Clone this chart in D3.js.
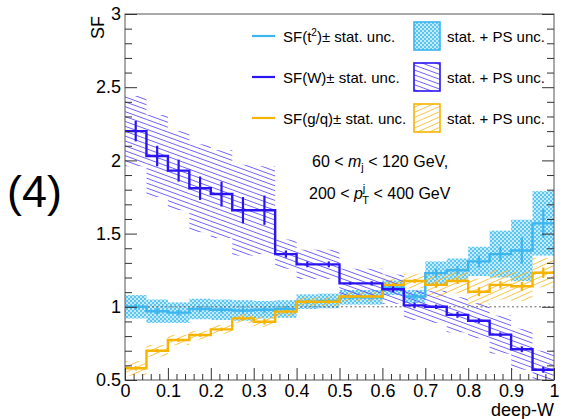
<!DOCTYPE html>
<html>
<head>
<meta charset="utf-8">
<script src="https://cdn.jsdelivr.net/npm/d3@7"></script>
<style>
  html, body { margin: 0; padding: 0; background: #fff; }
  svg { display: block; font-family: "Liberation Sans", Arial, Helvetica, sans-serif; }
</style>
</head>
<body>
<svg id="chart" width="577" height="419"></svg>
<script>
// deep-W bins
const binEdges = [0, 0.05, 0.1, 0.15, 0.2, 0.25, 0.3, 0.35, 0.4, 0.45, 0.5,
                  0.55, 0.6, 0.65, 0.7, 0.75, 0.8, 0.85, 0.9, 0.95, 1];

// SF(t^2): value, stat. unc., stat. + PS unc.
const tVal  = [1.00, 0.97, 0.96, 0.985, 0.98, 0.975, 0.98, 0.985, 1.035, 1.04, 1.065, 1.065, 1.13, 1.07, 1.23, 1.25, 1.31, 1.36, 1.385, 1.57];
const tStat = [0.02, 0.02, 0.02, 0.02, 0.02, 0.02, 0.02, 0.02, 0.015, 0.015, 0.015, 0.015, 0.02, 0.02, 0.03, 0.03, 0.04, 0.05, 0.09, 0.1];
const tTot  = [0.08, 0.08, 0.07, 0.07, 0.07, 0.07, 0.06, 0.06, 0.05, 0.05, 0.05, 0.05, 0.05, 0.045, 0.08, 0.08, 0.1, 0.16, 0.21, 0.22];

// SF(W)
const wVal  = [2.20, 2.03, 1.93, 1.81, 1.77, 1.66, 1.66, 1.36, 1.29, 1.29, 1.16, 1.16, 1.12, 1.01, 1.00, 0.945, 0.905, 0.81, 0.71, 0.57];
const wStat = [0.07, 0.07, 0.075, 0.08, 0.085, 0.09, 0.1, 0.025, 0.02, 0.02, 0.01, 0.015, 0.02, 0.02, 0.015, 0.02, 0.015, 0.015, 0.02, 0.02];
const wTot  = [0.24, 0.28, 0.27, 0.3, 0.3, 0.31, 0.3, 0.1, 0.1, 0.1, 0.1, 0.1, 0.1, 0.1, 0.11, 0.12, 0.12, 0.13, 0.14, 0.13];

// SF(g/q)
const oVal  = [0.58, 0.70, 0.773, 0.807, 0.846, 0.921, 0.898, 0.967, 1.035, 1.035, 1.07, 1.07, 1.15, 1.176, 1.15, 1.176, 1.103, 1.15, 1.14, 1.233];
const oStat = [0.015, 0.012, 0.012, 0.012, 0.012, 0.015, 0.02, 0.012, 0.012, 0.012, 0.01, 0.01, 0.015, 0.015, 0.02, 0.02, 0.03, 0.025, 0.03, 0.035];
const oTot  = [0.05, 0.04, 0.035, 0.03, 0.03, 0.03, 0.035, 0.03, 0.03, 0.03, 0.03, 0.03, 0.045, 0.05, 0.085, 0.085, 0.09, 0.1, 0.1, 0.1];

// axis ticks
const xMajor = [0, 0.1, 0.2, 0.3, 0.4, 0.5, 0.6, 0.7, 0.8, 0.9, 1];
const xMinor = [0.02, 0.04, 0.06, 0.08, 0.12, 0.14, 0.16, 0.18, 0.22, 0.24, 0.26, 0.28,
                0.32, 0.34, 0.36, 0.38, 0.42, 0.44, 0.46, 0.48, 0.52, 0.54, 0.56, 0.58,
                0.62, 0.64, 0.66, 0.68, 0.72, 0.74, 0.76, 0.78, 0.82, 0.84, 0.86, 0.88,
                0.92, 0.94, 0.96, 0.98];
const yMajor = [0.5, 1, 1.5, 2, 2.5, 3];
const yMinor = [0.6, 0.7, 0.8, 0.9, 1.1, 1.2, 1.3, 1.4, 1.6, 1.7, 1.8, 1.9,
                2.1, 2.2, 2.3, 2.4, 2.6, 2.7, 2.8, 2.9];

const colT = "#3db6ef", colW = "#2a14f2", colO = "#f6b400";

const svg = d3.select("#chart");
const W = { left: 125, right: 554, top: 14, bottom: 380 };
const x = d3.scaleLinear().domain([0, 1]).range([W.left, W.right]);
const y = d3.scaleLinear().domain([0.5, 3]).range([W.bottom, W.top]);

// fill patterns
const defs = svg.append("defs");
const pW = defs.append("pattern").attr("id", "hatchW").attr("patternUnits", "userSpaceOnUse")
  .attr("width", 10).attr("height", 4.6).attr("patternTransform", "rotate(20)");
pW.append("line").attr("x1", 0).attr("x2", 10).attr("y1", 2.3).attr("y2", 2.3)
  .attr("stroke", "#5a4cff").attr("stroke-width", 0.85);
const pO = defs.append("pattern").attr("id", "hatchO").attr("patternUnits", "userSpaceOnUse")
  .attr("width", 10).attr("height", 4.8).attr("patternTransform", "rotate(-24)");
pO.append("line").attr("x1", 0).attr("x2", 10).attr("y1", 2.4).attr("y2", 2.4)
  .attr("stroke", "#f7bd2e").attr("stroke-width", 0.85);
const pT = defs.append("pattern").attr("id", "hatchT").attr("patternUnits", "userSpaceOnUse")
  .attr("width", 4).attr("height", 4);
pT.append("rect").attr("width", 4).attr("height", 4).attr("fill", "#5cc6f3");
pT.append("circle").attr("cx", 1).attr("cy", 1).attr("r", 1).attr("fill", "#e6f6fd");
pT.append("circle").attr("cx", 3).attr("cy", 3).attr("r", 1).attr("fill", "#e6f6fd");

defs.append("clipPath").attr("id", "frameClip").append("rect")
  .attr("x", W.left).attr("y", W.top).attr("width", W.right - W.left).attr("height", W.bottom - W.top);

const plot = svg.append("g").attr("clip-path", "url(#frameClip)");
const bins = d3.range(tVal.length);

function band(vals, tots, fill) {
  plot.append("g").selectAll("rect").data(bins).join("rect")
    .attr("x", i => x(binEdges[i]))
    .attr("width", i => x(binEdges[i + 1]) - x(binEdges[i]))
    .attr("y", i => y(vals[i] + tots[i]))
    .attr("height", i => y(vals[i] - tots[i]) - y(vals[i] + tots[i]))
    .attr("fill", fill);
}
band(tVal, tTot, "url(#hatchT)");
band(oVal, oTot, "url(#hatchO)");
band(wVal, wTot, "url(#hatchW)");

// reference line at SF = 1
plot.append("line").attr("x1", x(0)).attr("x2", x(1)).attr("y1", y(1)).attr("y2", y(1))
  .attr("stroke", "#666").attr("stroke-width", 1).attr("stroke-dasharray", "2,2.5");

function steps(vals, stats, color) {
  const pts = bins.map(i => [binEdges[i], vals[i]]);
  pts.push([binEdges[binEdges.length - 1], vals[vals.length - 1]]);
  const line = d3.line().x(d => x(d[0])).y(d => y(d[1])).curve(d3.curveStepAfter);
  plot.append("path").attr("d", line(pts)).attr("fill", "none")
    .attr("stroke", color).attr("stroke-width", 2.4);
  plot.append("g").selectAll("line").data(bins).join("line")
    .attr("x1", i => x((binEdges[i] + binEdges[i + 1]) / 2))
    .attr("x2", i => x((binEdges[i] + binEdges[i + 1]) / 2))
    .attr("y1", i => y(vals[i] - stats[i]))
    .attr("y2", i => y(vals[i] + stats[i]))
    .attr("stroke", color).attr("stroke-width", 2.2);
}
steps(tVal, tStat, colT);
steps(oVal, oStat, colO);
steps(wVal, wStat, colW);

// frame and axes
const axisCol = "#333";
svg.append("rect").attr("x", W.left).attr("y", W.top)
  .attr("width", W.right - W.left).attr("height", W.bottom - W.top)
  .attr("fill", "none").attr("stroke", "#555").attr("stroke-width", 1);

function styleAxis(g) {
  g.select(".domain").remove();
  g.selectAll(".tick line").attr("stroke", axisCol).attr("stroke-width", 1);
  g.selectAll(".tick text").attr("fill", "#000").attr("font-size", 18)
    .attr("font-family", "'Liberation Sans', Arial, sans-serif");
}
svg.append("g").attr("transform", `translate(0,${W.bottom})`)
  .call(d3.axisBottom(x).tickValues(xMajor).tickSize(-12).tickPadding(4).tickFormat(d3.format("~g")))
  .call(styleAxis);
svg.append("g").attr("transform", `translate(0,${W.bottom})`)
  .call(d3.axisBottom(x).tickValues(xMinor).tickSize(-6).tickFormat(""))
  .call(styleAxis);
svg.append("g").attr("transform", `translate(${W.left},0)`)
  .call(d3.axisLeft(y).tickValues(yMajor).tickSize(-12).tickPadding(4).tickFormat(d3.format("~g")))
  .call(styleAxis);
svg.append("g").attr("transform", `translate(${W.left},0)`)
  .call(d3.axisLeft(y).tickValues(yMinor).tickSize(-7).tickFormat(""))
  .call(styleAxis);
svg.append("g").attr("transform", `translate(${W.right},0)`)
  .call(d3.axisRight(y).tickValues(yMajor).tickSize(-12).tickFormat(""))
  .call(styleAxis);
svg.append("g").attr("transform", `translate(${W.right},0)`)
  .call(d3.axisRight(y).tickValues(yMinor).tickSize(-7).tickFormat(""))
  .call(styleAxis);

// axis titles
svg.append("text").attr("x", W.right).attr("y", 416).attr("text-anchor", "end")
  .attr("font-size", 18).text("deep-W");
svg.append("text").attr("transform", "translate(104,16) rotate(-90)").attr("text-anchor", "end")
  .attr("font-size", 18).text("SF");

// panel label
svg.append("text").attr("x", 7).attr("y", 207).attr("font-size", 45).text("(4)");

// legend
const legend = [
  { color: colT, fill: "url(#hatchT)", name: "t", sup: "2" },
  { color: colW, fill: "url(#hatchW)", name: "W", sup: null },
  { color: colO, fill: "url(#hatchO)", name: "g/q", sup: null }
];
const legRowY = [36, 77, 118];
legend.forEach((e, k) => {
  const cy = legRowY[k];
  svg.append("line").attr("x1", 252).attr("x2", 275).attr("y1", cy).attr("y2", cy)
    .attr("stroke", e.color).attr("stroke-width", 2.2);
  const t = svg.append("text").attr("x", 283).attr("y", cy + 5.5).attr("font-size", 15);
  t.append("tspan").text("SF(" + e.name);
  if (e.sup) t.append("tspan").attr("font-size", 10).attr("dy", -6).text(e.sup);
  t.append("tspan").attr("dy", e.sup ? 6 : 0).text(")\u00b1 stat. unc.");
  svg.append("rect").attr("x", 414).attr("y", cy - 14).attr("width", 26).attr("height", 28)
    .attr("fill", e.fill).attr("stroke", e.color).attr("stroke-width", 1.6);
  svg.append("text").attr("x", 447).attr("y", cy + 5.5).attr("font-size", 15).text("stat. + PS unc.");
});

// selection text
const s1 = svg.append("text").attr("x", 312).attr("y", 167).attr("font-size", 16);
s1.append("tspan").text("60 < ");
s1.append("tspan").attr("font-style", "italic").text("m");
s1.append("tspan").attr("font-size", 11).attr("dy", 4).text("j");
s1.append("tspan").attr("dy", -4).text(" < 120 GeV,");
const s2 = svg.append("text").attr("x", 309).attr("y", 199).attr("font-size", 16);
s2.append("tspan").text("200 < ");
s2.append("tspan").attr("font-style", "italic").text("p");
s2.append("tspan").attr("font-size", 11).attr("dy", -7).text("j");
s2.append("tspan").attr("font-size", 11).attr("dx", -3).attr("dy", 12).text("T");
s2.append("tspan").attr("dy", -5).text(" < 400 GeV");
</script>
</body>
</html>
